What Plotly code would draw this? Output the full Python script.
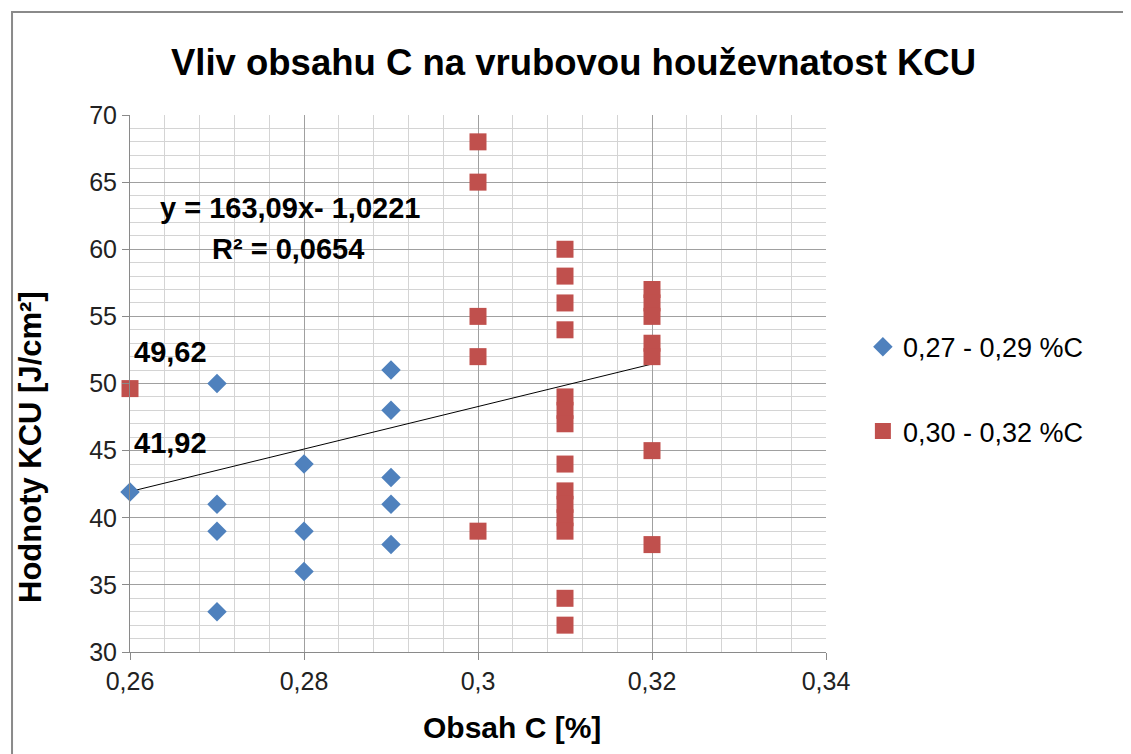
import plotly.graph_objects as go

# series 1: 0,27 - 0,29 %C
blue_x = [0.26, 0.27, 0.27, 0.27, 0.27, 0.28, 0.28, 0.28, 0.29, 0.29, 0.29, 0.29, 0.29]
blue_y = [41.92, 50, 41, 39, 33, 44, 39, 36, 51, 48, 43, 41, 38]

# series 2: 0,30 - 0,32 %C
red_x = [0.26,
         0.30, 0.30, 0.30, 0.30, 0.30,
         0.31, 0.31, 0.31, 0.31, 0.31, 0.31, 0.31, 0.31, 0.31, 0.31, 0.31, 0.31, 0.31, 0.31,
         0.32, 0.32, 0.32, 0.32, 0.32, 0.32, 0.32]
red_y = [49.62,
         68, 65, 55, 52, 39,
         60, 58, 56, 54, 49, 48, 47, 44, 42, 41, 40, 39, 34, 32,
         57, 56, 55, 53, 52, 45, 38]

# trend line end points as drawn in the chart
trend_x = [0.26, 0.32]
trend_y = [41.95, 51.45]

x_ticks = [0.26, 0.28, 0.30, 0.32, 0.34]
x_ticklabels = ['0,26', '0,28', '0,3', '0,32', '0,34']
y_ticks = [30, 35, 40, 45, 50, 55, 60, 65, 70]

FONT = 'Liberation Sans, sans-serif'

fig = go.Figure()

fig.add_trace(go.Scatter(
    x=trend_x, y=trend_y,
    mode='lines',
    line=dict(color='black', width=1),
    showlegend=False,
    hoverinfo='skip'
))

fig.add_trace(go.Scatter(
    name='0,27 - 0,29 %C',
    x=blue_x, y=blue_y,
    mode='markers',
    marker=dict(symbol='diamond', size=15, color='#4F81BD', line=dict(width=0)),
    cliponaxis=False,
    legendgroup='a'
))

fig.add_trace(go.Scatter(
    name='0,30 - 0,32 %C',
    x=red_x, y=red_y,
    mode='markers',
    marker=dict(symbol='square', size=17, color='#C0504D', line=dict(width=0)),
    cliponaxis=False,
    legendgroup='b'
))

annots = [
    dict(x=0.2784, y=63.05, text='y = 163,09x- 1,0221'),
    dict(x=0.2782, y=60.05, text='R² = 0,0654'),
    dict(x=0.2647, y=52.35, text='49,62'),
    dict(x=0.2647, y=45.55, text='41,92'),
]
for a in annots:
    fig.add_annotation(x=a['x'], y=a['y'], text='<b>' + a['text'] + '</b>',
                       showarrow=False, xanchor='center', yanchor='middle',
                       font=dict(family=FONT, size=29, color='black'))

# axis titles placed as in the original (offset from plot centre)
fig.add_annotation(xref='paper', yref='paper', x=(30 - 130) / 696, y=1 - (447 - 115) / 537,
                   text='<b>Hodnoty KCU [J/cm²]</b>', textangle=-90, showarrow=False,
                   xanchor='center', yanchor='middle',
                   font=dict(family=FONT, size=31, color='black'))
fig.add_annotation(xref='paper', yref='paper', x=(512 - 130) / 696, y=-(727 - 652) / 537,
                   text='<b>Obsah C [%]</b>', showarrow=False,
                   xanchor='center', yanchor='middle',
                   font=dict(family=FONT, size=30, color='black'))

fig.update_layout(
    width=1131, height=754,
    margin=dict(l=122, r=313, t=107, b=110),
    paper_bgcolor='white', plot_bgcolor='white',
    separators=', ',
    title=dict(text='<b>Vliv obsahu C na vrubovou houževnatost KCU</b>',
               xref='container', x=0.5, xanchor='center',
               yref='container', y=0.928, yanchor='middle',
               font=dict(family=FONT, size=36.5, color='black')),
    font=dict(family=FONT, color='#222'),
    legend=dict(x=1.053, y=0.613, xanchor='left', yanchor='top',
                font=dict(size=27, color='black'),
                tracegroupgap=46, bgcolor='rgba(0,0,0,0)'),
    shapes=[dict(type='rect', xref='paper', yref='paper',
                 x0=-0.1695, y0=-0.3, x1=1.6, y1=1.1918,
                 line=dict(color='#8a8a8a', width=2), layer='below')],
)

fig.update_xaxes(
    range=[0.26, 0.34], tickvals=x_ticks, ticktext=x_ticklabels,
    showgrid=True, gridcolor='#a0a0a0', gridwidth=1,
    minor=dict(dtick=0.004, tick0=0.26, showgrid=True, gridcolor='#d4d4d4', gridwidth=1),
    showline=True, linecolor='#8a8a8a', linewidth=1,
    ticks='outside', ticklen=7, tickcolor='#8a8a8a',
    tickfont=dict(size=25, color='#222'),
    zeroline=False,
)
fig.update_yaxes(
    range=[30, 70], tickvals=y_ticks,
    showgrid=True, gridcolor='#a0a0a0', gridwidth=1,
    minor=dict(dtick=1, tick0=30, showgrid=True, gridcolor='#d4d4d4', gridwidth=1),
    showline=True, linecolor='#8a8a8a', linewidth=1,
    ticks='outside', ticklen=7, tickcolor='#8a8a8a',
    tickfont=dict(size=25, color='#222'),
    zeroline=False,
)

fig.write_html('out.html')
